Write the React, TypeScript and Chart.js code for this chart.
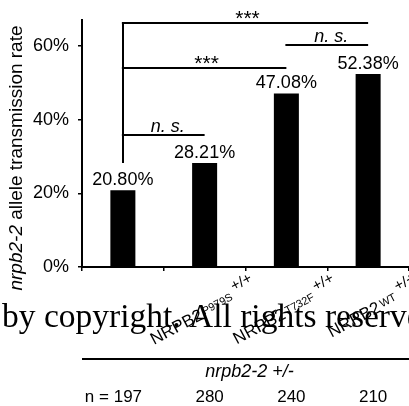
import React, { useEffect, useRef } from 'react';
import { Chart, registerables } from 'chart.js';

Chart.register(...registerables);

const categories = ['nrpb2-2 +/-', 'NRPB2 P979S +/+', 'NRPB2 T732F +/+', 'NRPB2 WT +/+'];
const labelMain = ['', 'NRPB2', 'NRPB2', 'NRPB2'];
const labelSup = ['', 'P979S', 'T732F', 'WT'];
const labelGenotype = ['', '+/+', '+/+', '+/+'];
const rates = [20.8, 28.21, 47.08, 52.38];
const rateLabels = ['20.80%', '28.21%', '47.08%', '52.38%'];
const nCounts = [197, 280, 240, 210];
const yTicks = [0, 20, 40, 60];
const yMax = 67;
const bracketFrom = [0, 2, 0, 0];
const bracketTo = [3, 3, 2, 1];
const bracketLevel = [66.2, 60.2, 54.0, 35.8];
const bracketText = ['***', 'n. s.', '***', 'n. s.'];
const stemBottom = 28.2;
const groupLabel = 'nrpb2-2 +/-';
const yTitleItalic = 'nrpb2-2';
const yTitleRest = ' allele transmission rate';
const watermark = 'by copyright. All rights reserved.';

const overlay = {
  id: 'overlay',
  afterDraw(chart: any) {
    const { ctx, chartArea } = chart;
    const xs = chart.scales.x;
    const ys = chart.scales.y;
    ctx.save();
    ctx.fillStyle = '#000';
    ctx.strokeStyle = '#000';
    ctx.lineWidth = 2;

    // brackets
    for (let i = 0; i < bracketLevel.length; i++) {
      const py = Math.round(ys.getPixelForValue(bracketLevel[i]));
      const x1 = xs.getPixelForValue(bracketFrom[i]);
      const x2 = xs.getPixelForValue(bracketTo[i]);
      ctx.beginPath();
      ctx.moveTo(x1 - 1, py);
      ctx.lineTo(x2, py);
      ctx.stroke();
      const t = bracketText[i];
      ctx.textAlign = 'center';
      ctx.textBaseline = 'alphabetic';
      if (t === '***') {
        ctx.font = '21px Arial, "Liberation Sans", sans-serif';
        ctx.fillText(t, (x1 + x2) / 2 + 2, py + 1.5);
      } else {
        ctx.font = 'italic 18px Arial, "Liberation Sans", sans-serif';
        ctx.fillText(t, (x1 + x2) / 2 + 4, py - 3);
      }
    }
    // stem
    {
      const x0 = Math.round(xs.getPixelForValue(0));
      ctx.beginPath();
      ctx.moveTo(x0, Math.round(ys.getPixelForValue(bracketLevel[0])));
      ctx.lineTo(x0, ys.getPixelForValue(stemBottom));
      ctx.stroke();
    }

    // value labels
    ctx.font = '18px Arial, "Liberation Sans", sans-serif';
    ctx.textAlign = 'center';
    ctx.textBaseline = 'alphabetic';
    for (let i = 0; i < rates.length; i++) {
      ctx.fillText(rateLabels[i], xs.getPixelForValue(i), ys.getPixelForValue(rates[i]) - 5);
    }

    // rotated category labels
    const ang = (28 * Math.PI) / 180;
    for (let i = 0; i < categories.length; i++) {
      if (!labelMain[i]) continue;
      const segs = [
        { text: labelMain[i], font: '17px Arial, "Liberation Sans", sans-serif', rise: 0, gap: 2 },
        { text: labelSup[i], font: '11px Arial, "Liberation Sans", sans-serif', rise: 3, gap: 4 },
        { text: labelGenotype[i], font: '15px Arial, "Liberation Sans", sans-serif', rise: 10, gap: 0 },
      ];
      let total = 0;
      const widths: number[] = [];
      for (const s of segs) {
        ctx.font = s.font;
        const w = ctx.measureText(s.text).width;
        widths.push(w);
        total += w + s.gap;
      }
      ctx.save();
      ctx.translate(xs.getPixelForValue(i) + 53, 290);
      ctx.rotate(-ang);
      ctx.textAlign = 'left';
      ctx.textBaseline = 'alphabetic';
      let cx = -total;
      segs.forEach((s, k) => {
        ctx.font = s.font;
        ctx.fillText(s.text, cx, -s.rise);
        cx += widths[k] + s.gap;
      });
      ctx.restore();
    }

    // y title
    ctx.save();
    ctx.translate(22, 158);
    ctx.rotate(-Math.PI / 2);
    ctx.textAlign = 'left';
    ctx.textBaseline = 'alphabetic';
    const fi = 'italic 19px Arial, "Liberation Sans", sans-serif';
    const fn = '19px Arial, "Liberation Sans", sans-serif';
    ctx.font = fi;
    const w1 = ctx.measureText(yTitleItalic).width;
    ctx.font = fn;
    const w2 = ctx.measureText(yTitleRest).width;
    const start = -(w1 + w2) / 2;
    ctx.font = fi;
    ctx.fillText(yTitleItalic, start, 0);
    ctx.font = fn;
    ctx.fillText(yTitleRest, start + w1, 0);
    ctx.restore();

    // group line and labels
    ctx.beginPath();
    ctx.moveTo(chartArea.left, 359);
    ctx.lineTo(chartArea.right, 359);
    ctx.stroke();
    ctx.textAlign = 'center';
    ctx.font = 'italic 18px Arial, "Liberation Sans", sans-serif';
    ctx.fillText(groupLabel, (chartArea.left + chartArea.right) / 2 + 4, 377);
    ctx.font = '17px Arial, "Liberation Sans", sans-serif';
    for (let i = 0; i < nCounts.length; i++) {
      const cx = xs.getPixelForValue(i) + 5;
      ctx.textAlign = 'center';
      ctx.fillText(String(nCounts[i]), cx, 402);
      if (i === 0) {
        const w = ctx.measureText(String(nCounts[i])).width;
        ctx.textAlign = 'right';
        ctx.fillText('n = ', cx - w / 2, 402);
      }
    }

    // watermark
    ctx.textAlign = 'left';
    ctx.font = '33.5px "Liberation Serif", serif';
    ctx.fillText(watermark, 2, 327);
    ctx.restore();
  },
};

export default function App() {
  const ref = useRef<HTMLCanvasElement>(null);
  useEffect(() => {
    if (!ref.current) return;
    const chart = new Chart(ref.current, {
      type: 'bar',
      data: {
        labels: categories,
        datasets: [
          {
            data: rates,
            backgroundColor: '#000',
            borderWidth: 0,
            barPercentage: 0.306,
            categoryPercentage: 1,
          },
        ],
      },
      options: {
        animation: false,
        responsive: true,
        maintainAspectRatio: false,
        layout: { padding: { top: 20, left: 0, right: 0, bottom: 0 } },
        plugins: { legend: { display: false }, tooltip: { enabled: false } },
        scales: {
          x: {
            ticks: { display: false },
            grid: { drawOnChartArea: false, drawTicks: true, tickLength: 4, color: '#000', lineWidth: 1.5, offset: true },
            border: { color: '#000', width: 2 },
            afterFit: (s: any) => {
              s.height = 139;
            },
          },
          y: {
            min: 0,
            max: yMax,
            afterBuildTicks: (s: any) => {
              s.ticks = yTicks.map((v) => ({ value: v }));
            },
            ticks: {
              color: '#000',
              padding: 9,
              font: { family: 'Arial, "Liberation Sans", sans-serif', size: 18 },
              callback: (v: any) => v + '%',
            },
            grid: { drawOnChartArea: false, drawTicks: true, tickLength: 4, color: '#000', lineWidth: 1.5 },
            border: { color: '#000', width: 2 },
            afterFit: (s: any) => {
              s.width = 82;
            },
          },
        },
      },
      plugins: [overlay],
    });
    return () => chart.destroy();
  }, []);
  return (
    <div style={{ position: 'absolute', left: 0, top: 0, width: 409, height: 406 }}>
      <canvas ref={ref} />
    </div>
  );
}
